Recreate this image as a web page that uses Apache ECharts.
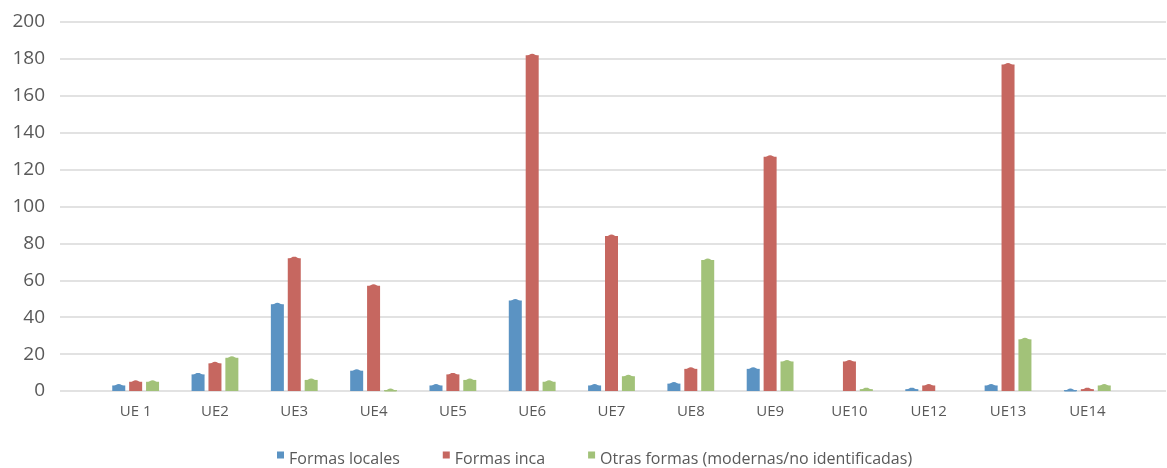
<!DOCTYPE html>
<html>
<head>
<meta charset="utf-8">
<script src="https://cdn.jsdelivr.net/npm/echarts@6/dist/echarts.min.js"></script>
<style>
  html, body { margin: 0; padding: 0; background: #fff; }
  #chart { width: 1167px; height: 468px; }
</style>
</head>
<body>
<div id="chart"></div>
<script>
// categorias (no hay UE11)
const categories = ['UE 1', 'UE2', 'UE3', 'UE4', 'UE5', 'UE6', 'UE7', 'UE8', 'UE9', 'UE10', 'UE12', 'UE13', 'UE14']
const formasLocales = [3, 9, 47, 11, 3, 49, 3, 4, 12, 0, 1, 3, 0.5]
const formasInca = [5, 15, 72, 57, 9, 182, 84, 12, 127, 16, 3, 177, 1]
const otrasFormas = [5, 18, 6, 0.5, 6, 5, 8, 71, 16, 1, 0, 28, 3]
const seriesNames = ['Formas locales', 'Formas inca', 'Otras formas (modernas/no identificadas)']
const colors = ['#5B93C3', '#C66760', '#A2C279']

const FONT = '"Open Sans", sans-serif'
const TXT = '#595959'

const chart = echarts.init(document.getElementById('chart'))

// barra normal + pequeño "techo" en punta, como en excel
const capPath = 'path://M0,3 L5,0.4 Q6.5,0 8,0.4 L13,3 Z'
// cuadrado de la leyenda un poco mas arriba que el texto
const legendIcon = 'path://M0,0h7v7h-7z M3,14.99h0.01v0.01h-0.01z'
const allData = [formasLocales, formasInca, otrasFormas]

const bars = allData.map((d, i) => ({
    name: seriesNames[i],
    type: 'bar',
    xAxisIndex: 1,
    yAxisIndex: 1,
    barWidth: 13,
    barGap: '30%',
    itemStyle: { color: colors[i] },
    data: d
}))
const caps = allData.map((d, i) => ({
    name: 'cap' + i,
    type: 'pictorialBar',
    xAxisIndex: 1,
    yAxisIndex: 1,
    barWidth: 13,
    barGap: '30%',
    symbol: capPath,
    symbolSize: [13, 3],
    symbolPosition: 'end',
    symbolOffset: [0, '-50%'],
    itemStyle: { color: colors[i] },
    z: 3,
    data: d.map(v => v > 0 ? v : '-')
}))

const option = {
    animation: false,
    textStyle: { fontFamily: FONT },
    legend: {
        data: seriesNames,
        left: 277,
        top: 451,
        padding: 0,
        icon: legendIcon,
        itemWidth: 7,
        itemHeight: 15,
        itemGap: 43,
        textStyle: { fontSize: 16, color: TXT, fontFamily: FONT }
    },
    grid: [
        // fondo: solo lineas de division, mas ancho
        { left: 60, right: 1, top: 22, bottom: 77 },
        // barras
        { left: 96, right: 40, top: 22, bottom: 77 }
    ],
    xAxis: [
        { gridIndex: 0, type: 'value', show: false },
        {
            gridIndex: 1,
            type: 'category',
            data: categories,
            axisLine: { show: false },
            axisTick: { show: false },
            axisLabel: { fontSize: 15, color: TXT, margin: 13, fontFamily: FONT }
        }
    ],
    yAxis: [
        {
            gridIndex: 0,
            type: 'value',
            min: 0,
            max: 200,
            interval: 20,
            axisLine: { show: false },
            axisTick: { show: false },
            axisLabel: { fontSize: 19, color: TXT, margin: 15, fontFamily: FONT },
            splitLine: { lineStyle: { color: '#D9D9D9', width: 1.5 } }
        },
        { gridIndex: 1, type: 'value', min: 0, max: 200, show: false }
    ],
    series: bars.concat(caps)
}
chart.setOption(option)
</script>
</body>
</html>
